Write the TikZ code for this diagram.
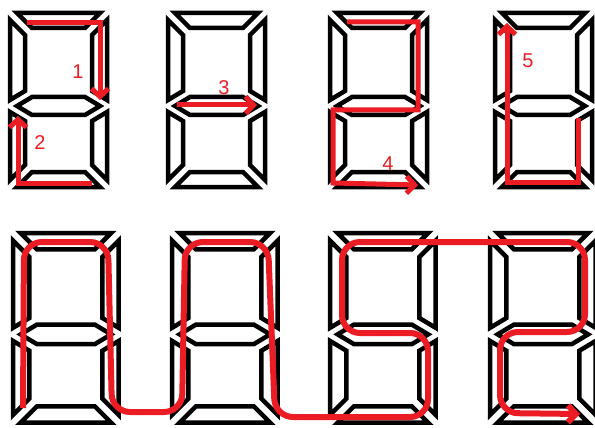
\documentclass[tikz,border=0pt]{standalone}
\usepackage{fontspec}
\setmainfont{Liberation Sans}
\usetikzlibrary{arrows.meta}
\definecolor{paintred}{RGB}{236,28,36}
\tikzset{
  seg/.style={draw=black, line width=4.5pt, fill=white},
  trace/.style={draw=paintred, line width=5pt},
  tip/.style={-{Straight Barb[length=8pt,width=17pt]}},
  steplabel/.style={text=paintred, font=\fontsize{20}{20}\selectfont},
  digit/.pic={
    \def\segw{97}\def\segh{174}\def\segt{15}\def\segg{7}\def\segm{93}\def\segk{9}
    % horizontal segments
    \path[seg] (\segg,0) -- (\segw-\segg,0) -- (\segw-\segg-\segt,\segt) -- (\segg+\segt,\segt) -- cycle;
    \path[seg] (\segg,\segh) -- (\segw-\segg,\segh) -- (\segw-\segg-\segt,\segh-\segt) -- (\segg+\segt,\segh-\segt) -- cycle;
    \path[seg] (\segg,\segm) -- (\segg+\segt,\segm-\segk) -- (\segw-\segg-\segt,\segm-\segk)
      -- (\segw-\segg,\segm) -- (\segw-\segg-\segt,\segm+\segk) -- (\segg+\segt,\segm+\segk) -- cycle;
    % vertical segments, left and right
    \foreach \s/\o in {1/0,-1/1} {
      \path[seg] ({\o*\segw},\segg) -- ({\o*\segw+\s*\segt},\segg+\segt)
        -- ({\o*\segw+\s*\segt},\segm-\segk-6) -- ({\o*\segw},\segm-6) -- cycle;
      \path[seg] ({\o*\segw},\segm+6) -- ({\o*\segw+\s*\segt},\segm+\segk+6)
        -- ({\o*\segw+\s*\segt},\segh-\segg-\segt) -- ({\o*\segw},\segh-\segg) -- cycle;
    }
  }
}
\begin{document}
\begin{tikzpicture}[x=1pt, y=-1pt]
  \useasboundingbox (0,0) rectangle (595,428);

  % Top row: single strokes
  \foreach \dx in {10,168,330,495}
    \pic at (\dx,13) {digit};

  \draw[trace, tip] (27,23) -- (100,23) -- (100,100);
  \draw[trace, tip] (92,183) -- (18,183) -- (18,116);
  \draw[trace, tip] (177,105) -- (257,105);
  \draw[trace, tip] (347,22) -- (418,22) -- (418,110) -- (333,110) -- (333,183) -- (418,185);
  \draw[trace, tip] (578,118) -- (578,182) -- (507,182) -- (507,23);

  \node[steplabel] (n1) at (78,72) {1};
  \node[steplabel] (n2) at (40,143) {2};
  \node[steplabel] (n3) at (224,88) {3};
  \node[steplabel] (n4) at (388,164) {4};
  \node[steplabel] (n5) at (528,61) {5};

  % Bottom row: one continuous stroke
  \foreach \dx in {13,172,330,490}
    \pic[scale=1.09] at (\dx,233) {digit};

  \draw[trace, line width=6pt, rounded corners=18pt, tip]
    (23,408) -- (24,242) -- (108,242) -- (112,412) -- (182,412) -- (185,242)
    -- (268,242) -- (275,417) -- (428,417) -- (428,333) -- (342,333) -- (342,242)
    -- (585,242) -- (585,332) -- (500,332) -- (500,413) -- (580,414);
\end{tikzpicture}
\end{document}
